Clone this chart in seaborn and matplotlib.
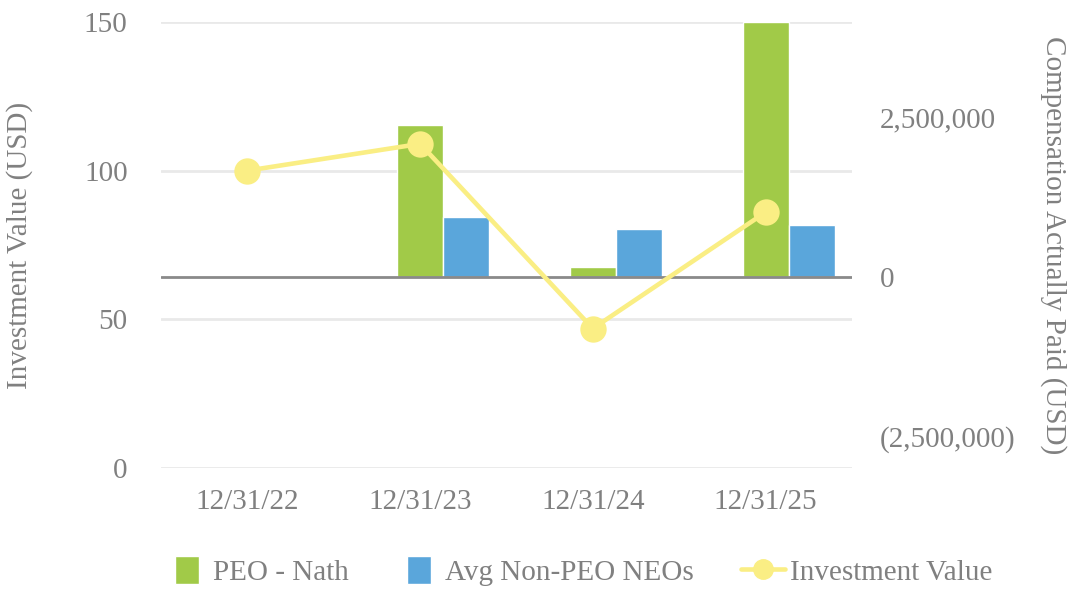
import numpy as np
import pandas as pd
import matplotlib
matplotlib.use("Agg")
import matplotlib.pyplot as plt
import matplotlib.ticker as mticker
from matplotlib.patches import Patch, Rectangle
from matplotlib.lines import Line2D
from matplotlib.legend_handler import HandlerPatch
import seaborn as sns

# ---- data ----
dates = ["12/31/22", "12/31/23", "12/31/24", "12/31/25"]
peo_prior = [np.nan, np.nan, np.nan, np.nan]          # unseen series, reserves a bar slot
peo_nath = [np.nan, 2380000, 150000, 4000000]
avg_non_peo = [np.nan, 940000, 750000, 810000]
investment_value = [100, 109, 46.9, 86]
series_names = ["PEO - Prior", "PEO - Nath", "Avg Non-PEO NEOs"]
line_name = "Investment Value"

GREEN = "#A1CA48"
BLUE = "#5AA6DB"
YELLOW = "#FAEE84"
TEXT = "#808080"
GRID = "#E9E9E9"
ZERO = "#8A8A8A"
FS = 21

sns.set_theme(style="white")
plt.rcParams["font.family"] = ["Liberation Serif", "DejaVu Serif"]
plt.rcParams["font.size"] = FS

df = pd.DataFrame({
    "date": dates * 3,
    "series": [series_names[0]] * 4 + [series_names[1]] * 4 + [series_names[2]] * 4,
    "value": peo_prior + peo_nath + avg_non_peo,
})

fig = plt.figure(figsize=(10.77, 5.93), dpi=100)
rect = [0.1495, 0.2108, 0.6415, 0.7522]
ax = fig.add_axes(rect)            # left axis: ticks + grid
ax_bars = ax.twinx()               # right axis: bars
ax_line = fig.add_axes(rect, sharex=ax, sharey=ax)  # line on top
ax.set_zorder(0)
ax_bars.set_zorder(1)
ax_line.set_zorder(2)
for a in (ax_bars, ax_line):
    a.patch.set_visible(False)

sns.barplot(data=df, x="date", y="value", hue="series", hue_order=series_names,
            order=dates, palette=["#FFFFFF", GREEN, BLUE], width=0.8,
            saturation=1, ax=ax_bars, legend=False, errorbar=None)
ax_bars.axhline(0, color=ZERO, lw=2, zorder=3)
ax_bars.set_ylim(-3000000, 4000000)
ax_bars.set_yticks([-2500000, 0, 2500000])
ax_bars.yaxis.set_major_formatter(mticker.FuncFormatter(
    lambda v, p: f"({abs(v):,.0f})" if v < 0 else f"{v:,.0f}"))
ax_bars.set_ylabel("Compensation Actually Paid (USD)", color=TEXT, rotation=270,
                   fontsize=FS, va="center")
ax_bars.yaxis.set_label_coords(1.292, 0.5)
ax_bars.set_xlabel("")

sns.pointplot(x=dates, y=investment_value, order=dates, color=YELLOW, ax=ax_line,
              markers="o", markersize=16.5, linewidth=3.3, errorbar=None)
ax_line.axis("off")

ax.set_ylim(0, 150)
ax.set_yticks([0, 50, 100, 150])
ax.grid(axis="y", color=GRID, lw=2)
ax.grid(axis="x", visible=False)
ax.set_xlim(-0.5, 3.5)
ax.set_ylabel("Investment Value (USD)", color=TEXT, fontsize=FS, va="center")
ax.yaxis.set_label_coords(-0.205, 0.5)

for a in (ax, ax_bars, ax_line):
    for s in a.spines.values():
        s.set_visible(False)
ax.tick_params(axis="y", colors=TEXT, labelsize=FS, length=0, pad=24)
ax.tick_params(axis="x", colors=TEXT, labelsize=FS, length=0, pad=15)
ax_bars.tick_params(axis="y", colors=TEXT, labelsize=FS, length=0, pad=20)
ax_bars.tick_params(axis="x", length=0, labelbottom=False)


def narrow_patch(legend, orig_handle, xdescent, ydescent, width, height, fontsize):
    w = fontsize * 0.82
    h = fontsize * 0.98
    x0 = -xdescent + width - w - fontsize * 0.3
    y0 = -ydescent + (height - h) / 2
    return Rectangle((x0, y0), w, h)


handles = [Patch(facecolor=GREEN, label=series_names[1]),
           Patch(facecolor=BLUE, label=series_names[2]),
           Line2D([0], [0], color=YELLOW, lw=3.3, marker="o", markersize=14,
                  label=line_name)]
fig.legend(handles=handles, loc="center", bbox_to_anchor=(0.537, 0.036),
           ncol=3, frameon=False, fontsize=FS, labelcolor=TEXT,
           handlelength=1.5, handleheight=1.0, columnspacing=1.6, handletextpad=0.2,
           handler_map={Patch: HandlerPatch(patch_func=narrow_patch)})

fig.savefig("out.png", dpi=100)
